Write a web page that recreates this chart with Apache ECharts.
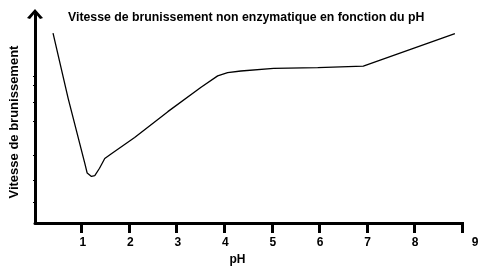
<!DOCTYPE html>
<html><head><meta charset="utf-8">
<script src="https://cdn.jsdelivr.net/npm/echarts@6/dist/echarts.min.js"></script>
<style>html,body{margin:0;padding:0;background:#fff}#c{width:484px;height:271px}</style>
</head><body><div id="c"></div>
<script>
var titleText = 'Vitesse de brunissement non enzymatique en fonction du pH';
var xName = 'pH';
var yName = 'Vitesse de brunissement';
var pH = [0.38, 0.70, 1.05, 1.10, 1.19, 1.26, 1.36, 1.47, 1.61, 2.10, 2.80, 3.50, 3.85, 4.06, 4.34, 5.03, 5.96, 6.92, 8.85];
var vitesse = [9.77, 6.40, 3.07, 2.57, 2.40, 2.44, 2.82, 3.32, 3.57, 4.40, 5.73, 6.98, 7.57, 7.74, 7.82, 7.95, 7.99, 8.07, 9.74];
var xTickValues = [1, 2, 3, 4, 5, 6, 7, 8, 9];
var yTickValues = [1.05, 2.2, 3.5, 5.25, 6.2, 7.1, 7.55];

var data = pH.map(function (x, i) { return [x, vitesse[i]]; });
var font = 'Liberation Sans, Arial, sans-serif';
var chart = echarts.init(document.getElementById('c'));
chart.setOption({
  animation: false,
  backgroundColor: '#fff',
  title: {
    text: titleText, left: 63, top: 7,
    textStyle: { fontFamily: font, fontSize: 12.3, fontWeight: 'bold', color: '#000' }
  },
  grid: [
    { left: 34, right: 22, top: 14, bottom: 44 },
    { left: 34, right: 22, top: 222, height: 11 }
  ],
  xAxis: [{
    gridIndex: 0, type: 'value', min: 0, max: 9, interval: 1,
    name: xName, nameLocation: 'middle', nameGap: 30,
    nameTextStyle: { fontFamily: font, fontSize: 12, fontWeight: 'bold', color: '#000', padding: [0, 22, 0, 0] },
    splitLine: { show: false },
    axisLine: { show: true, lineStyle: { color: '#000', width: 3 } },
    axisTick: { show: false },
    axisLabel: {
      margin: 14, fontFamily: font, fontSize: 12, fontWeight: 'bold', color: '#000',
      customValues: xTickValues,
      formatter: function (v) { return v === 9 ? '{r|9}' : '{n|' + v + '}'; },
      rich: { n: { padding: [0, 0, 0, 1], fontFamily: font, fontSize: 12, fontWeight: 'bold', color: '#000' },
              r: { padding: [0, 0, 0, 26], fontFamily: font, fontSize: 12, fontWeight: 'bold', color: '#000' } }
    }
  }, {
    gridIndex: 1, type: 'value', min: 0, max: 9, interval: 1,
    axisLine: { show: false },
    axisTick: { show: false },
    axisLabel: { show: false },
    splitLine: { show: true, showMinLine: false, showMaxLine: true, lineStyle: { color: '#000', width: 3, type: 'solid' } }
  }],
  yAxis: [{
    gridIndex: 0, type: 'value', min: 0, max: 10.75,
    name: yName, nameLocation: 'middle', nameGap: 14,
    nameTextStyle: { fontFamily: font, fontSize: 13, fontWeight: 'bold', color: '#000', padding: [0, 7, 0, 0] },
    splitLine: { show: false },
    axisLabel: { show: false },
    axisLine: {
      show: true,
      lineStyle: { color: '#000', width: 3 },
      symbol: ['none', 'path://M0,9 L8,0 L16,9 L13,10 L8,4 L3,10 Z'],
      symbolSize: [17, 10]
    },
    axisTick: { show: true, length: 2, customValues: yTickValues, lineStyle: { color: '#000', width: 1 } }
  }, {
    gridIndex: 1, type: 'value', min: 0, max: 1, show: false
  }],
  series: [{
    type: 'line', data: data, xAxisIndex: 0, yAxisIndex: 0, showSymbol: false, symbol: 'none',
    lineStyle: { color: '#000', width: 1.3 }
  }]
});
</script></body></html>
